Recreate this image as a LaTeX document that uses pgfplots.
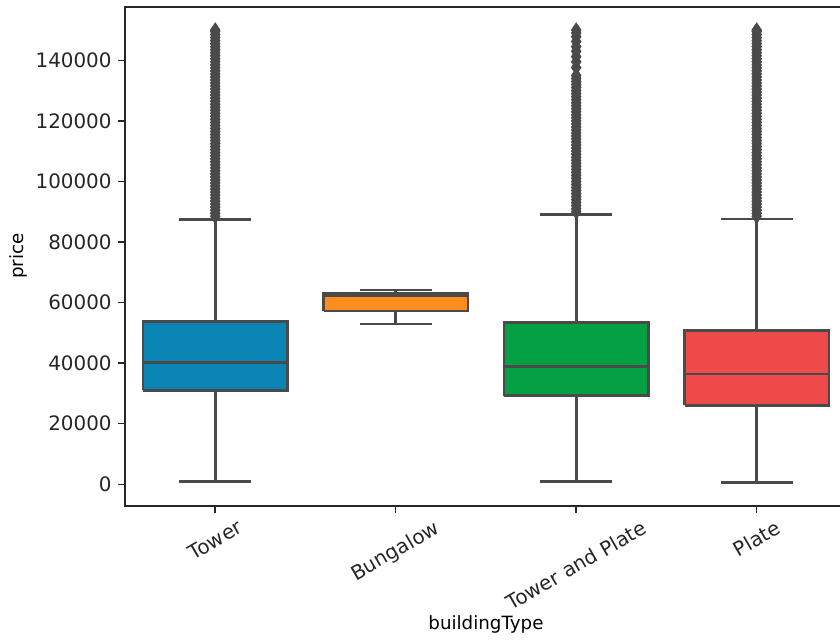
\documentclass[border=0pt]{standalone}
\usepackage{fontspec}
\setmainfont{DejaVu Sans}
\usepackage{pgfplots}
\pgfplotsset{compat=1.18}
\usetikzlibrary{calc}

\definecolor{edgegray}{HTML}{4A4A4A}
\definecolor{cTower}{HTML}{0A85B5}
\definecolor{cBungalow}{HTML}{FE8C1E}
\definecolor{cTowerPlate}{HTML}{04A043}
\definecolor{cPlate}{HTML}{EE4A4A}

\pgfplotsset{
  boxbody/.style={draw=edgegray, line width=1.5pt, line join=miter, fill=#1},
  boxlines/.style={draw=edgegray, line width=1.5pt, unbounded coords=jump, no marks},
  fliers/.style={only marks, mark=diamond*, mark size=4pt,
    mark options={fill=edgegray, draw=edgegray, line width=0.3pt, xscale=0.9}},
}

\begin{document}
\begin{tikzpicture}
\begin{axis}[
  name=ax,
  scale only axis,
  width=395.4pt, height=273.3pt,
  xmin=-0.5, xmax=3.5,
  ymin=-7070, ymax=157700,
  xtick={0,1,2,3},
  xticklabels={\rotatebox{30}{Tower},\rotatebox{30}{Bungalow},\rotatebox{30}{Tower and Plate},\rotatebox{30}{Plate}},
  ytick={0,20000,40000,60000,80000,100000,120000,140000},
  scaled y ticks=false,
  yticklabel style={/pgf/number format/.cd, fixed, 1000 sep={}, assume math mode=true},
  tick align=outside,
  tick pos=left,
  major tick length=3.8pt,
  tick style={line width=0.8pt, black!85},
  axis line style={line width=0.9pt, black!85},
  ticklabel style={font=\fontsize{10.9}{13}\selectfont, text=black!85},
  x tick label style={anchor=north},
  label style={font=\fontsize{10.9}{13}\selectfont, text=black!85},
  every axis x label/.style={at={(axis description cs:0.5,0)}, yshift=-65.3pt, anchor=center},
  every axis y label/.style={at={(axis description cs:0,0.5)}, xshift=-58.6pt, rotate=90, anchor=center},
  xlabel={buildingType},
  ylabel={price},
  clip=false,
]
% ---- Tower: whiskers 860 / 87500, quartiles 31000 / 53700, median 40100
\addplot[boxlines] coordinates {
  (-0.2,860) (0.2,860) (0,nan) (0,860) (0,31000) (0,nan)
  (0,53700) (0,87500) (0,nan) (-0.2,87500) (0.2,87500)};
\addplot[boxbody=cTower] coordinates {
  (-0.4,31000) (0.4,31000) (0.4,53700) (-0.4,53700) (-0.4,31000)};
\addplot[boxlines] coordinates {(-0.4,40100) (0.4,40100)};
\addplot[fliers] coordinates {
  (0,88500) (0,89500) (0,90500) (0,91500) (0,92500) (0,93500) (0,94500)
  (0,95500) (0,96500) (0,97500) (0,98500) (0,99500) (0,100500) (0,101500)
  (0,102500) (0,103500) (0,104500) (0,105500) (0,106500) (0,107500)
  (0,108500) (0,109500) (0,110500) (0,111500) (0,112500) (0,113500)
  (0,114500) (0,115500) (0,116500) (0,117500) (0,118500) (0,119500)
  (0,120500) (0,121500) (0,122500) (0,123500) (0,124500) (0,125500)
  (0,126500) (0,127500) (0,128500) (0,129500) (0,130500) (0,131500)
  (0,132500) (0,133500) (0,134500) (0,135500) (0,136500) (0,137500)
  (0,138500) (0,139500) (0,140500) (0,141500) (0,142500) (0,143500)
  (0,144500) (0,145500) (0,146500) (0,147500) (0,148500) (0,149500) (0,150000)};
% ---- Bungalow: whiskers 52900 / 64200, quartiles 57200 / 63200, median 62300
\addplot[boxlines] coordinates {
  (0.8,52900) (1.2,52900) (0,nan) (1,52900) (1,57200) (0,nan)
  (1,63200) (1,64200) (0,nan) (0.8,64200) (1.2,64200)};
\addplot[boxbody=cBungalow] coordinates {
  (0.6,57200) (1.4,57200) (1.4,63200) (0.6,63200) (0.6,57200)};
\addplot[boxlines] coordinates {(0.6,62300) (1.4,62300)};
% ---- Tower and Plate: whiskers 860 / 89200, quartiles 29300 / 53500, median 39000
\addplot[boxlines] coordinates {
  (1.8,860) (2.2,860) (0,nan) (2,860) (2,29300) (0,nan)
  (2,53500) (2,89200) (0,nan) (1.8,89200) (2.2,89200)};
\addplot[boxbody=cTowerPlate] coordinates {
  (1.6,29300) (2.4,29300) (2.4,53500) (1.6,53500) (1.6,29300)};
\addplot[boxlines] coordinates {(1.6,39000) (2.4,39000)};
\addplot[fliers] coordinates {
  (2,90000) (2,91000) (2,92000) (2,93000) (2,94000) (2,95000) (2,96000)
  (2,97000) (2,98000) (2,99000) (2,100000) (2,101000) (2,102000)
  (2,103000) (2,104000) (2,105000) (2,106000) (2,107000) (2,108000)
  (2,109000) (2,110000) (2,111000) (2,112000) (2,113000) (2,114000)
  (2,115000) (2,116000) (2,117000) (2,118000) (2,119000) (2,120000)
  (2,121000) (2,122000) (2,123000) (2,124000) (2,125000) (2,126000)
  (2,127000) (2,128000) (2,129000) (2,130000) (2,131000) (2,132000)
  (2,133000) (2,134000) (2,135000)
  (2,137600) (2,139500) (2,141200) (2,143000) (2,144500) (2,146200)
  (2,147800) (2,149000) (2,150000)};
% ---- Plate: whiskers 660 / 87600, quartiles 26100 / 50700, median 36400
\addplot[boxlines] coordinates {
  (2.8,660) (3.2,660) (0,nan) (3,660) (3,26100) (0,nan)
  (3,50700) (3,87600) (0,nan) (2.8,87600) (3.2,87600)};
\addplot[boxbody=cPlate] coordinates {
  (2.6,26100) (3.4,26100) (3.4,50700) (2.6,50700) (2.6,26100)};
\addplot[boxlines] coordinates {(2.6,36400) (3.4,36400)};
\addplot[fliers] coordinates {
  (3,88500) (3,89500) (3,90500) (3,91500) (3,92500) (3,93500) (3,94500)
  (3,95500) (3,96500) (3,97500) (3,98500) (3,99500) (3,100500) (3,101500)
  (3,102500) (3,103500) (3,104500) (3,105500) (3,106500) (3,107500)
  (3,108500) (3,109500) (3,110500) (3,111500) (3,112500) (3,113500)
  (3,114500) (3,115500) (3,116500) (3,117500) (3,118500) (3,119500)
  (3,120500) (3,121500) (3,122500) (3,123500) (3,124500) (3,125500)
  (3,126500) (3,127500) (3,128500) (3,129500) (3,130500) (3,131500)
  (3,132500) (3,133500) (3,134500) (3,135500) (3,136500) (3,137500)
  (3,138500) (3,139500) (3,140500) (3,141500) (3,142500) (3,143500)
  (3,144500) (3,145500) (3,146500) (3,147500) (3,148500) (3,149500) (3,150000)};
\end{axis}
\pgfresetboundingbox
\path[use as bounding box] ($(ax.south west)+(-68.45pt,-74.1pt)$) rectangle ($(ax.north west)+(391.6pt,3.67pt)$);
\end{tikzpicture}
\end{document}
